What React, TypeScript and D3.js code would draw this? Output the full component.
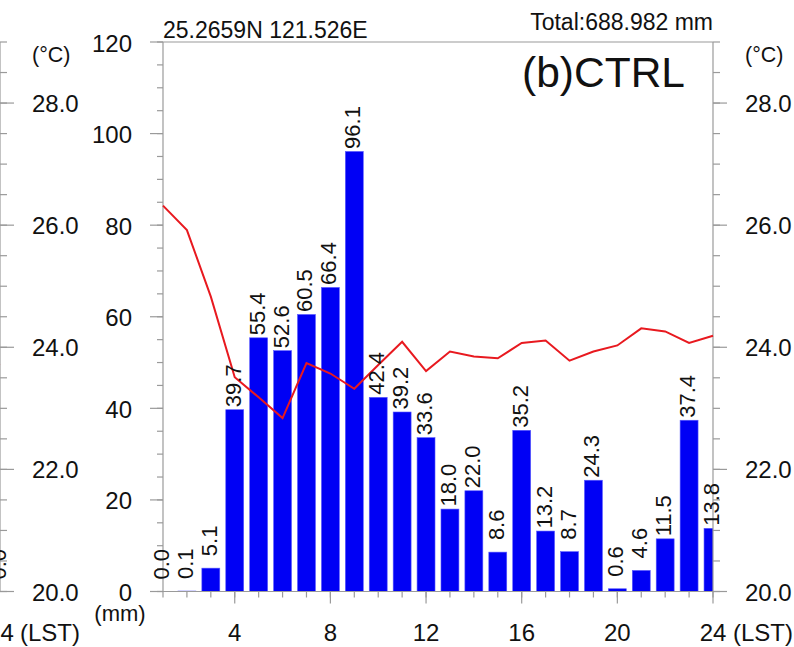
import React from 'react';
import * as d3 from 'd3';

// ---- data ----
const hours = [1, 2, 3, 4, 5, 6, 7, 8, 9, 10, 11, 12, 13, 14, 15, 16, 17, 18, 19, 20, 21, 22, 23, 24];
const rainfall = [0.0, 0.1, 5.1, 39.7, 55.4, 52.6, 60.5, 66.4, 96.1, 42.4, 39.2, 33.6, 18.0, 22.0, 8.6, 35.2, 13.2, 8.7, 24.3, 0.6, 4.6, 11.5, 37.4, 13.8];
const temperature = [26.32, 25.92, 24.83, 23.51, 23.18, 22.84, 23.74, 23.57, 23.32, 23.71, 24.09, 23.61, 23.93, 23.85, 23.82, 24.07, 24.11, 23.78, 23.93, 24.03, 24.31, 24.26, 24.07, 24.19];
const rainTicks = [0, 20, 40, 60, 80, 100, 120];
const tempTicks = [20, 22, 24, 26, 28];
const hourTicks = [4, 8, 12, 16, 20, 24];
// remnants of the neighbouring panel (a), cut off at the left edge
const panelATail = [23.75, 23.71];
const panelALastRain = [0.0];

const titleLeft = '25.2659N 121.526E';
const titleRight = 'Total:688.982 mm';
const panelTitle = '(b)CTRL';

const W = 794;
const H = 647;
const L = 163;
const R = 713;
const T = 42;
const B = 591.5;
const PA = 0; // x of panel (a)'s right axis

const FONT = "'Liberation Sans', Arial, Helvetica, sans-serif";
const AX = '#9a9a9a';
const LABEL_FS = 22;

export default function App() {
  const x = d3.scaleLinear().domain([1, 24]).range([L, R]);
  const yR = d3.scaleLinear().domain([0, 120]).range([B, T]);
  const yT = d3.scaleLinear().domain([20, 29]).range([B, T]);
  const step = x(2) - x(1);
  const barW = step * 0.75;

  const tempLine = d3
    .line<number>()
    .x((_, i) => x(hours[i]))
    .y((d) => yT(d));

  const tailLine = d3
    .line<number>()
    .x((_, i) => PA - step * (panelATail.length - 1 - i))
    .y((d) => yT(d));

  const rainMinor = d3.range(0, 120.01, 5);
  const tempMinor = d3.range(20, 29.01, 0.5);

  const labelGap = (s: string) => (s.length <= 3 ? 12 : 2.5);

  const rightAxis = (ax: number, key: string) => (
    <g key={key}>
      <line x1={ax} x2={ax} y1={T} y2={B} stroke={AX} strokeWidth={1.2} />
      {tempMinor.map((t) => (
        <line key={'m' + t} x1={ax} x2={ax + 7} y1={yT(t)} y2={yT(t)} stroke={AX} strokeWidth={1.2} />
      ))}
      {tempTicks.map((t) => (
        <g key={'M' + t}>
          <line x1={ax} x2={ax + 14} y1={yT(t)} y2={yT(t)} stroke={AX} strokeWidth={1.2} />
          <text x={ax + 32} y={yT(t) + 9} fontSize={24} fill="#111">
            {t.toFixed(1)}
          </text>
        </g>
      ))}
      <text x={ax + 32} y={62} fontSize={21.5} fill="#111">
        (°C)
      </text>
    </g>
  );

  return (
    <svg
      width={W}
      height={H}
      viewBox={`0 0 ${W} ${H}`}
      style={{ position: 'absolute', left: 0, top: 0, background: '#fff' }}
      fontFamily={FONT}
    >
      <rect x={0} y={0} width={W} height={H} fill="#fff" />
      <defs>
        <clipPath id="plotClip">
          <rect x={L} y={T} width={R - L} height={B - T + 1} />
        </clipPath>
      </defs>

      {/* ---- panel (a) remnants ---- */}
      {rightAxis(PA, 'pa')}
      <path d={tailLine(panelATail) || ''} fill="none" stroke="#e8191f" strokeWidth={2} />
      {panelALastRain.map((v, i) => {
        const s = v.toFixed(1);
        return (
          <text
            key={'pal' + i}
            transform={`translate(${PA - 1.5},${yR(v) - labelGap(s)}) rotate(-90)`}
            fontSize={LABEL_FS}
            dominantBaseline="central"
            fill="#111"
          >
            {s}
          </text>
        );
      })}
      <text x={PA + 0.5} y={641} fontSize={24} textAnchor="middle" fill="#111">
        24
      </text>
      <text x={PA + 20} y={641} fontSize={24} fill="#111">
        (LST)
      </text>

      {/* ---- panel (b) ---- */}
      <g clipPath="url(#plotClip)">
        {rainfall.map((v, i) => (
          <rect
            key={'b' + i}
            x={x(hours[i]) - barW / 2}
            y={yR(v)}
            width={barW}
            height={B - yR(v)}
            fill="#0000f5"
            stroke="#5a5aff"
            strokeWidth={0.6}
          />
        ))}
      </g>

      {/* frame */}
      <line x1={L} x2={R} y1={T} y2={T} stroke={AX} strokeWidth={1.2} />
      <line x1={L} x2={L} y1={T} y2={B} stroke={AX} strokeWidth={1.2} />
      <line x1={L} x2={R} y1={B} y2={B} stroke={AX} strokeWidth={1.2} />

      {/* left axis (mm) */}
      {rainMinor.map((t) => (
        <line key={'rm' + t} x1={L - 6} x2={L} y1={yR(t)} y2={yR(t)} stroke={AX} strokeWidth={1.2} />
      ))}
      {rainTicks.map((t) => (
        <g key={'rt' + t}>
          <line x1={L - 13} x2={L} y1={yR(t)} y2={yR(t)} stroke={AX} strokeWidth={1.2} />
          <text x={132} y={yR(t) + 9.5} fontSize={24} textAnchor="end" fill="#111">
            {t}
          </text>
        </g>
      ))}
      <text x={120} y={621} fontSize={22} textAnchor="middle" fill="#111">
        (mm)
      </text>

      {/* right axis (°C) */}
      {rightAxis(R, 'pb')}

      {/* bottom axis */}
      {hours.map((h) => (
        <line key={'hm' + h} x1={x(h)} x2={x(h)} y1={B} y2={B + 6} stroke={AX} strokeWidth={1.2} />
      ))}
      {hourTicks.map((h) => (
        <g key={'ht' + h}>
          <line x1={x(h)} x2={x(h)} y1={B} y2={B + 12} stroke={AX} strokeWidth={1.2} />
          <text x={x(h)} y={641} fontSize={24} textAnchor="middle" fill="#111">
            {h}
          </text>
        </g>
      ))}
      <text x={R + 20} y={641} fontSize={24} fill="#111">
        (LST)
      </text>

      {/* temperature line */}
      <path d={tempLine(temperature) || ''} fill="none" stroke="#e8191f" strokeWidth={2} strokeLinejoin="miter" />

      {/* bar value labels */}
      {rainfall.map((v, i) => {
        const s = v.toFixed(1);
        return (
          <text
            key={'l' + i}
            transform={`translate(${x(hours[i]) - 1.5},${yR(v) - labelGap(s)}) rotate(-90)`}
            fontSize={LABEL_FS}
            dominantBaseline="central"
            fill="#111"
          >
            {s}
          </text>
        );
      })}

      {/* titles */}
      <text x={L} y={38} fontSize={23} fill="#111">
        {titleLeft}
      </text>
      <text x={R} y={30} fontSize={23} textAnchor="end" fill="#111">
        {titleRight}
      </text>
      <text x={685} y={87} fontSize={42.5} textAnchor="end" fill="#111">
        {panelTitle}
      </text>
    </svg>
  );
}
